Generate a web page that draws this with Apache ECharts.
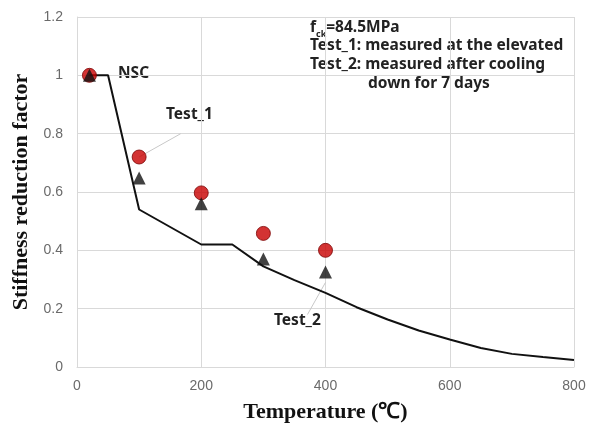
<!DOCTYPE html>
<html><head><meta charset="utf-8">
<script src="https://cdn.jsdelivr.net/npm/echarts@6/dist/echarts.min.js"></script>
<style>html,body{margin:0;padding:0;background:#fff}#c{width:597px;height:427px}</style>
</head><body><div id="c"></div>
<script>
// NSC reference curve (temperature, factor)
const nscTemp = [20, 50, 100, 200, 250, 300, 350, 400, 450, 500, 550, 600, 650, 700, 750, 800];
const nscVal  = [1.0, 1.0, 0.54, 0.42, 0.42, 0.345, 0.298, 0.254, 0.205, 0.163, 0.125, 0.094, 0.065, 0.045, 0.034, 0.024];
// Test data
const testTemp = [20, 100, 200, 300, 400];
const test1Val = [1.0, 0.72, 0.597, 0.458, 0.40];
const test2Val = [1.0, 0.648, 0.56, 0.37, 0.326];
// Leader lines for labels
const leader1 = [[100, 0.72], [167, 0.80]];
const leader2 = [[400, 0.29], [371, 0.18]];
const xTicks = [0, 200, 400, 600, 800];
const yTicks = [0, 0.2, 0.4, 0.6, 0.8, 1, 1.2];

const zip = (a, b) => a.map((v, i) => [v, b[i]]);
const chart = echarts.init(document.getElementById('c'));
const tickFont = {color: '#6a6a6a', fontSize: 14, fontFamily: 'Liberation Sans'};
const annFont = 'bold 15.5px "Noto Sans"';
chart.setOption({
  animation: false,
  grid: {left: 77, right: 23, top: 17, bottom: 60, containLabel: false, outerBoundsMode: 'none'},
  xAxis: {
    type: 'value', min: 0, max: 800, interval: 200,
    name: 'Temperature (℃)', nameLocation: 'middle', nameGap: 34,
    nameTextStyle: {fontFamily: 'Liberation Serif', fontWeight: 'bold', fontSize: 22, color: '#111'},
    axisLine: {show: true, lineStyle: {color: '#d9d9d9'}},
    axisTick: {show: false},
    axisLabel: Object.assign({margin: 12}, tickFont),
    splitLine: {show: true, lineStyle: {color: '#d9d9d9'}}
  },
  yAxis: {
    type: 'value', min: 0, max: 1.2, interval: 0.2,
    name: 'Stiffness reduction factor', nameLocation: 'middle', nameGap: 41,
    nameTextStyle: {fontFamily: 'Liberation Serif', fontWeight: 'bold', fontSize: 22, color: '#111'},
    axisLine: {show: true, lineStyle: {color: '#d9d9d9'}},
    axisTick: {show: false},
    axisLabel: Object.assign({margin: 14, formatter: v => (Math.round(v * 10) / 10).toString()}, tickFont),
    splitLine: {show: true, lineStyle: {color: '#d9d9d9'}}
  },
  series: [
    {type: 'line', data: leader1, symbol: 'none', lineStyle: {color: '#c8c8c8', width: 1}, z: 1, silent: true},
    {type: 'line', data: leader2, symbol: 'none', lineStyle: {color: '#c8c8c8', width: 1}, z: 1, silent: true},
    {type: 'line', data: zip(nscTemp, nscVal), symbol: 'none', lineStyle: {color: '#111', width: 2}, z: 2},
    {type: 'scatter', data: zip(testTemp, test1Val), symbol: 'circle', symbolSize: 14,
      itemStyle: {color: '#c80000', borderColor: '#7a0000', borderWidth: 1}, z: 3},
    {type: 'scatter', data: zip(testTemp, test2Val), symbol: 'triangle', symbolSize: 13,
      itemStyle: {color: '#111'}, z: 4}
  ],
  graphic: [
    {type: 'text', left: 118, top: 66, style: {text: 'NSC', font: annFont, fill: '#222'}},
    {type: 'text', left: 166, top: 107, style: {text: 'Test_1', font: annFont, fill: '#222'}},
    {type: 'text', left: 274, top: 313, style: {text: 'Test_2', font: annFont, fill: '#222'}},
    {type: 'text', left: 310, top: 20, style: {
      text: '{f|f}{s|ck}{f|=84.5MPa}',
      rich: {f: {font: annFont, fill: '#222'}, s: {font: 'bold 9px "Noto Sans"', fill: '#222', padding: [12, 0, 0, 0]}}
    }},
    {type: 'text', left: 310, top: 38, style: {text: 'Test_1: measured at the elevated', font: annFont, fill: '#222'}},
    {type: 'text', left: 310, top: 57, style: {text: 'Test_2: measured after cooling', font: annFont, fill: '#222'}},
    {type: 'text', left: 368, top: 76, style: {text: 'down for 7 days', font: annFont, fill: '#222'}}
  ]
});
</script></body></html>
